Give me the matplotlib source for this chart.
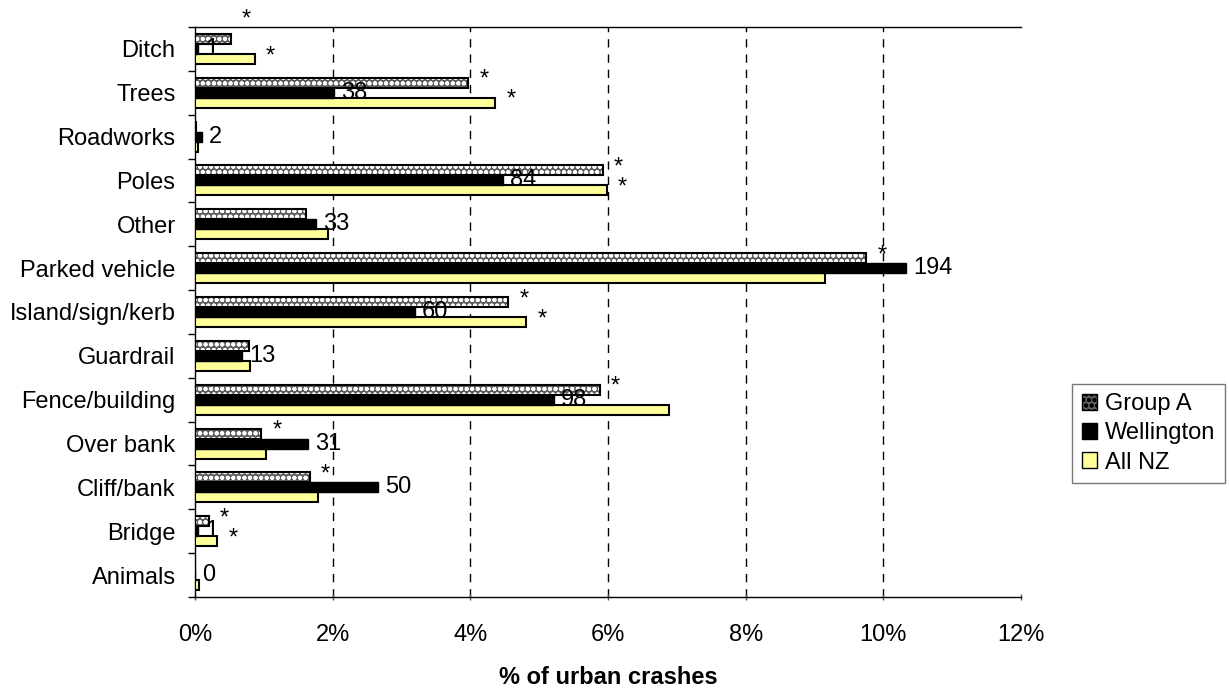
import matplotlib
matplotlib.use("Agg")
import matplotlib.pyplot as plt
import numpy as np
from matplotlib.patches import Patch

# categories listed top to bottom as in the chart
categories = ["Ditch", "Trees", "Roadworks", "Poles", "Other", "Parked vehicle",
              "Island/sign/kerb", "Guardrail", "Fence/building", "Over bank",
              "Cliff/bank", "Bridge", "Animals"]
group_a = [0.52, 3.97, 0.02, 5.92, 1.61, 9.75, 4.55, 0.78, 5.88, 0.96, 1.67, 0.20, 0.0]
wellington = [0.05, 2.02, 0.10, 4.47, 1.76, 10.33, 3.19, 0.68, 5.22, 1.64, 2.66, 0.05, 0.0]
all_nz = [0.87, 4.36, 0.04, 5.98, 1.93, 9.15, 4.81, 0.80, 6.88, 1.03, 1.79, 0.32, 0.06]
wellington_counts = [1, 38, 2, 84, 33, 194, 60, 13, 98, 31, 50, 1, 0]
# significance markers
star_group_a = [1, 1, 0, 1, 0, 1, 1, 0, 1, 1, 1, 1, 0]
star_all_nz = [1, 1, 0, 1, 0, 0, 1, 0, 0, 1, 1, 1, 0]

plt.rcParams['font.family'] = ['Liberation Sans', 'DejaVu Sans']
plt.rcParams['hatch.linewidth'] = 1.3

FS = 17
GREY = '#5e5e5e'
YELLOW = '#ffff99'

fig = plt.figure(figsize=(12.29, 6.91), dpi=100)
ax = fig.add_axes([0.1587, 0.136, 0.6721, 0.825])

n = len(categories)
y = np.arange(n)[::-1]
h = 0.228

# Group A: patterned bars
ax.barh(y + h, group_a, height=h, color=GREY, edgecolor='white', hatch='ooo',
        linewidth=0, zorder=3)
ax.barh(y + h, group_a, height=h, fill=False, edgecolor='black', linewidth=1.5, zorder=3)
ax.barh(y, wellington, height=h, color='black', edgecolor='black', linewidth=1.0, zorder=5)
ax.barh(y - h, all_nz, height=h, color=YELLOW, edgecolor='black', linewidth=1.5, zorder=3)

for i in range(n):
    if star_group_a[i]:
        dy = 14 if categories[i] == "Ditch" else 2
        ax.annotate('*', (group_a[i], y[i] + h), xytext=(8, dy), textcoords='offset points',
                    ha='left', va='center', fontsize=FS, zorder=4)
    if star_all_nz[i]:
        ax.annotate('*', (all_nz[i], y[i] - h), xytext=(8, 2), textcoords='offset points',
                    ha='left', va='center', fontsize=FS, zorder=4)
    ax.annotate(str(wellington_counts[i]), (wellington[i], y[i]), xytext=(5, 0),
                textcoords='offset points', ha='left', va='center', fontsize=FS, zorder=6)

ax.set_xlim(0, 12)
ax.set_ylim(-0.5, n - 0.5)
ax.set_xticks(np.arange(0, 13, 2))
ax.set_xticklabels([f"{v}%" for v in range(0, 13, 2)], fontsize=FS)
ax.set_yticks(y)
ax.set_yticklabels(categories, fontsize=FS)
ax.set_yticks(np.arange(-0.5, n, 1), minor=True)
ax.tick_params(axis='y', which='major', length=0, pad=14)
ax.tick_params(axis='y', which='minor', length=5, width=1)
ax.tick_params(axis='x', length=5, direction='inout', width=1, color='#555555', pad=17)

for gx in range(2, 12, 2):
    ax.axvline(gx, color='black', linestyle=(0, (6, 5)), linewidth=1, zorder=1)

ax.spines['right'].set_visible(False)
for side in ['left', 'bottom', 'top']:
    ax.spines[side].set_linewidth(1)

ax.set_xlabel('% of urban crashes', fontsize=FS, fontweight='bold', labelpad=14)

handles = [Patch(facecolor=GREY, edgecolor='white', hatch='ooo', label='Group A'),
           Patch(facecolor='black', edgecolor='black', label='Wellington'),
           Patch(facecolor=YELLOW, edgecolor='black', label='All NZ')]
leg = fig.legend(handles=handles, loc='lower left', bbox_to_anchor=(0.8723, 0.301),
                 fontsize=FS, frameon=True, fancybox=False, edgecolor='#555555',
                 handlelength=0.65, handleheight=0.65, handletextpad=0.35,
                 borderpad=0.4, labelspacing=0.3, borderaxespad=0)
leg.get_frame().set_linewidth(1)
for p in leg.get_patches():
    p.set_edgecolor('black')

fig.savefig('out.png', dpi=100)
